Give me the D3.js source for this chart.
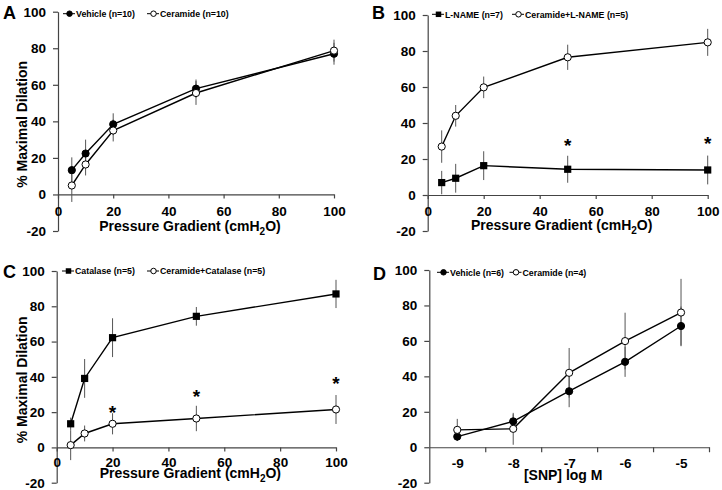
<!DOCTYPE html>
<html lang="en">
<head>
<meta charset="utf-8">
<script src="https://d3js.org/d3.v7.min.js"></script>
<style>
  body { margin: 0; background: #fff; }
  svg text { font-family: "Liberation Sans", Arial, sans-serif; font-weight: bold; }
  .axis path, .axis line { stroke: #444; stroke-width: 1.2; }
  .axis text { fill: #000; }
</style>
</head>
<body>
<script>
// ---- data ----
var pressure = [5, 10, 20, 50, 100];
var pressureTicks = [0, 20, 40, 60, 80, 100];
var dilationTicks = [-20, 0, 20, 40, 60, 80, 100];

// A
var vehicleA = [13.3, 22.4, 38.4, 57.9, 77.0];
var vehicleAErr = [7, 7.6, 6, 5, 6];
var ceramideA = [4.9, 16.4, 35.0, 55.5, 78.7];
var ceramideAErr = [9, 6, 6, 6.5, 6];

// B
var lnameB = [6.9, 9.3, 16.3, 14.3, 13.9];
var lnameBErr = [6.5, 8, 8, 7.5, 8];
var ceramideLnameB = [26.9, 44.0, 59.8, 76.5, 84.8];
var ceramideLnameBErr = [9, 6, 6, 7, 7.5];

// C
var catalaseC = [13.4, 39.1, 62.2, 74.3, 87.0];
var catalaseCErr = [3.5, 11, 11, 5.3, 8];
var ceramideCatalaseC = [1.3, 7.9, 13.4, 16.4, 21.5];
var ceramideCatalaseCErr = [8.5, 4.5, 6, 7.2, 8.2];

// D
var snpLog = [-9, -8, -7, -6, -5];
var vehicleD = [6.0, 14.6, 31.6, 48.2, 68.4];
var vehicleDErr = [2.5, 4, 9, 8.5, 11];
var ceramideD = [9.8, 10.4, 42.0, 59.9, 76.0];
var ceramideDErr = [6.2, 9, 14, 16, 19];

var svg = d3.select("body").append("svg")
  .attr("width", 722).attr("height", 490);

// plain hyphen for negatives, like the original
var fmt = function(d) { return String(d); };

function drawPanel(p) {
  var g = svg.append("g");
  var x = d3.scaleLinear().domain(p.xDomain).range(p.xRange);
  var y = d3.scaleLinear().domain([-20, 100]).range([p.yBottom, p.yTop]);

  // y axis
  g.append("g").attr("class", "axis")
    .attr("transform", "translate(" + p.xRange[0] + ",0)")
    .call(d3.axisLeft(y).tickValues(dilationTicks).tickFormat(fmt).tickSize(5).tickSizeOuter(0).tickPadding(7))
    .selectAll("text").style("font-size", "13.5px");

  // x axis at y = 0
  var xg = g.append("g").attr("class", "axis")
    .attr("transform", "translate(0," + y(0) + ")");
  if (p.categorical) {
    xg.call(d3.axisBottom(x).tickValues(p.tickMarks).tickSize(5).tickSizeOuter(0).tickFormat(""));
    g.append("g").attr("class", "axis")
      .attr("transform", "translate(0," + y(0) + ")")
      .call(d3.axisBottom(x).tickValues(p.labels).tickFormat(fmt).tickSize(0).tickPadding(p.labelPad + 4))
      .call(function(s) { s.select(".domain").remove(); })
      .selectAll("text").style("font-size", "13.5px");
  } else {
    xg.call(d3.axisBottom(x).tickValues(p.labels).tickFormat(fmt).tickSize(4).tickSizeOuter(0).tickPadding(p.labelPad))
      .selectAll("text").style("font-size", "13.5px");
  }

  // x title
  var xt = g.append("text")
    .attr("x", (p.xRange[0] + p.xRange[1]) / 2 - 6)
    .attr("y", y(0) + p.titleDy)
    .attr("text-anchor", "middle")
    .style("font-size", "14px");
  if (p.xTitleSub) {
    xt.append("tspan").text("Pressure Gradient (cmH");
    xt.append("tspan").text("2").attr("dy", 4).style("font-size", "10px");
    xt.append("tspan").text("O)").attr("dy", -4);
  } else {
    xt.text(p.xTitle);
  }

  // y title
  if (p.yTitle) {
    g.append("text")
      .attr("transform", "translate(27," + ((p.yTop + p.yBottom) / 2 + 3) + ") rotate(-90)")
      .attr("text-anchor", "middle")
      .style("font-size", "14px")
      .text("% Maximal Dilation");
  }

  // panel letter
  g.append("text").attr("x", p.letterX).attr("y", p.letterY)
    .style("font-size", "18px").text(p.letter);

  var line = d3.line()
    .x(function(d) { return x(d.x); })
    .y(function(d) { return y(d.y); });

  p.series.forEach(function(s) {
    var pts = p.xs.map(function(v, i) { return { x: v, y: s.values[i], e: s.errs[i] }; });
    // error bars
    g.selectAll(null).data(pts).enter().append("line")
      .attr("x1", function(d) { return x(d.x); })
      .attr("x2", function(d) { return x(d.x); })
      .attr("y1", function(d) { return y(d.y - d.e); })
      .attr("y2", function(d) { return y(d.y + d.e); })
      .attr("stroke", "#555").attr("stroke-width", 1);
    g.append("path").datum(pts)
      .attr("d", line).attr("fill", "none")
      .attr("stroke", "#000").attr("stroke-width", 1.4);
  });

  p.series.forEach(function(s) {
    var pts = p.xs.map(function(v, i) { return { x: v, y: s.values[i] }; });
    drawMarkers(g, pts, s.marker, x, y, 7.2);
  });

  // legend
  p.series.forEach(function(s) {
    var ly = p.legendY;
    g.append("line")
      .attr("x1", s.legendX - 13).attr("x2", s.legendX - 1)
      .attr("y1", ly).attr("y2", ly)
      .attr("stroke", "#000").attr("stroke-width", 1);
    drawMarkers(g, [{ x: 0, y: 0 }], s.marker,
      function() { return s.legendX - 6.5; }, function() { return ly; }, 5.5);
    g.append("text").attr("x", s.legendX).attr("y", ly + 3.3)
      .style("font-size", "8.8px").text(s.name);
  });

  // significance stars
  (p.stars || []).forEach(function(st) {
    g.append("text").attr("x", x(st[0])).attr("y", y(st[1]) + 10)
      .attr("text-anchor", "middle").style("font-size", "19px").text("*");
  });
}

function drawMarkers(g, pts, type, x, y, size) {
  if (type === "square") {
    g.selectAll(null).data(pts).enter().append("rect")
      .attr("x", function(d) { return x(d.x) - size / 2; })
      .attr("y", function(d) { return y(d.y) - size / 2; })
      .attr("width", size).attr("height", size).attr("fill", "#000");
  } else {
    g.selectAll(null).data(pts).enter().append("circle")
      .attr("cx", function(d) { return x(d.x); })
      .attr("cy", function(d) { return y(d.y); })
      .attr("r", size / 2)
      .attr("fill", type === "filled" ? "#000" : "#fff")
      .attr("stroke", "#000").attr("stroke-width", 1);
  }
}

drawPanel({
  letter: "A", letterX: 3, letterY: 18.5,
  xDomain: [0, 100], xRange: [58, 334], yTop: 11.7, yBottom: 231,
  xs: pressure, labels: pressureTicks, labelPad: 7.5, xTitleSub: true, titleDy: 36.5, yTitle: true,
  legendY: 13.7,
  series: [
    { name: "Vehicle (n=10)", values: vehicleA, errs: vehicleAErr, marker: "filled", legendX: 76 },
    { name: "Ceramide (n=10)", values: ceramideA, errs: ceramideAErr, marker: "open", legendX: 160 }
  ]
});

drawPanel({
  letter: "B", letterX: 372, letterY: 19.3,
  xDomain: [0, 100], xRange: [427.7, 707.7], yTop: 15, yBottom: 231,
  xs: pressure, labels: pressureTicks, labelPad: 7, xTitleSub: true, titleDy: 35, yTitle: false,
  legendY: 14.3,
  series: [
    { name: "L-NAME (n=7)", values: lnameB, errs: lnameBErr, marker: "square", legendX: 445 },
    { name: "Ceramide+L-NAME (n=5)", values: ceramideLnameB, errs: ceramideLnameBErr, marker: "open", legendX: 525 }
  ],
  stars: [[50, 29.6], [100, 30.5]]
});

drawPanel({
  letter: "C", letterX: 3, letterY: 277.5,
  xDomain: [0, 100], xRange: [56.7, 336], yTop: 271, yBottom: 482.7,
  xs: pressure, labels: pressureTicks, labelPad: 6, xTitleSub: true, titleDy: 31, yTitle: true,
  legendY: 271,
  series: [
    { name: "Catalase (n=5)", values: catalaseC, errs: catalaseCErr, marker: "square", legendX: 75 },
    { name: "Ceramide+Catalase (n=5)", values: ceramideCatalaseC, errs: ceramideCatalaseCErr, marker: "open", legendX: 160 }
  ],
  stars: [[20, 22], [50, 30.6], [100, 38]]
});

drawPanel({
  letter: "D", letterX: 373, letterY: 279.5,
  xDomain: [-9.5, -4.5], xRange: [429.3, 709], yTop: 270, yBottom: 482.7,
  xs: snpLog, labels: snpLog, labelPad: 7.5, tickMarks: [-8.5, -7.5, -6.5, -5.5, -4.5], categorical: true,
  xTitle: "[SNP] log M", titleDy: 33, yTitle: false,
  legendY: 272.3,
  series: [
    { name: "Vehicle (n=6)", values: vehicleD, errs: vehicleDErr, marker: "filled", legendX: 450 },
    { name: "Ceramide (n=4)", values: ceramideD, errs: ceramideDErr, marker: "open", legendX: 522.5 }
  ]
});
</script>
</body>
</html>
